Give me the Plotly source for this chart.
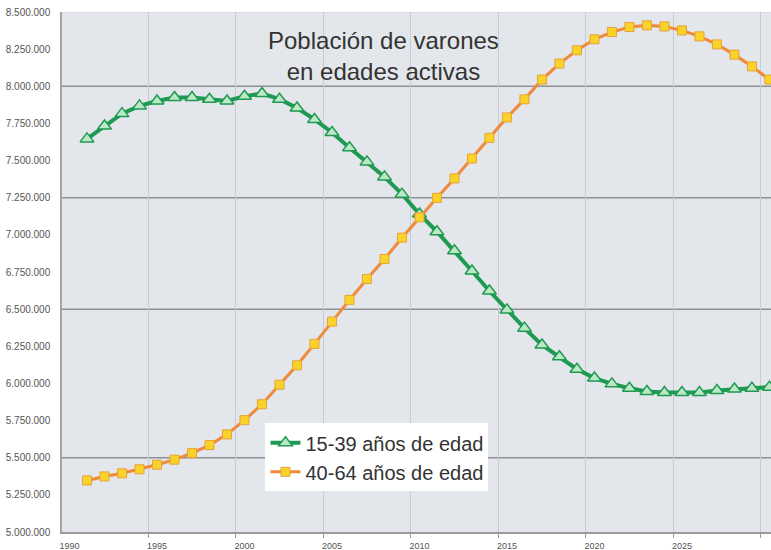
import plotly.graph_objects as go

# ============================================================================
# DATA
# ============================================================================

years = list(range(1991, 2031))

# Población de varones 15-39 años
pob_15_39 = [
    7646000, 7733000, 7816000, 7868000, 7901000, 7924000, 7924000, 7913000,
    7901000, 7933000, 7951000, 7913000, 7854000, 7777000, 7689000, 7586000,
    7491000, 7390000, 7274000, 7140000, 7021000, 6893000, 6757000, 6622000,
    6495000, 6372000, 6259000, 6180000, 6096000, 6036000, 5997000, 5968000,
    5946000, 5939000, 5939000, 5939000, 5952000, 5962000, 5968000, 5975000,
]

# Población de varones 40-64 años
pob_40_64 = [
    5347000, 5374000, 5395000, 5422000, 5453000, 5487000, 5531000, 5585000,
    5657000, 5753000, 5860000, 5991000, 6122000, 6266000, 6416000, 6562000,
    6703000, 6837000, 6981000, 7118000, 7249000, 7380000, 7514000, 7653000,
    7790000, 7912000, 8045000, 8153000, 8242000, 8316000, 8365000, 8399000,
    8410000, 8403000, 8376000, 8336000, 8282000, 8213000, 8134000, 8045000,
]

serie_names = ["15-39 años de edad", "40-64 años de edad"]
title_text = "Población de varones<br>en edades activas"

x_ticks = list(range(1990, 2031, 5))
y_ticks = list(range(5000000, 8500001, 250000))

# ============================================================================
# FIGURE
# ============================================================================

FONT = "Liberation Sans, Arial, sans-serif"

fig = go.Figure()

fig.add_trace(go.Scatter(
    x=years, y=pob_15_39, name=serie_names[0], mode="lines+markers",
    line=dict(color="#1F9A52", width=4),
    marker=dict(symbol="triangle-up", size=12, color="#BDE8C6",
                line=dict(color="#1F9A52", width=1.5)),
))
fig.add_trace(go.Scatter(
    x=years, y=pob_40_64, name=serie_names[1], mode="lines+markers",
    line=dict(color="#F08A3A", width=3),
    marker=dict(symbol="square", size=9, color="#F9D22A",
                line=dict(color="#E8A238", width=1)),
))

# darker reference lines of the original chart
for yv in [8000000, 7250000, 6500000, 5500000]:
    fig.add_hline(y=yv, line=dict(color="#8E9093", width=1.5), layer="below")
fig.add_hline(y=8500000, line=dict(color="#CDCFD2", width=1), layer="below")

fig.add_annotation(
    text=title_text, xref="paper", yref="paper", x=0.453, y=0.915,
    xanchor="center", yanchor="middle", showarrow=False,
    font=dict(family=FONT, size=24, color="#333333"),
)

fig.update_layout(
    width=771, height=550,
    margin=dict(l=62, r=0, t=12, b=18),
    paper_bgcolor="white",
    plot_bgcolor="#E3E6EA",
    separators=",.",
    font=dict(family=FONT, color="#444444"),
    showlegend=True,
    legend=dict(
        x=0.287, y=0.209, xanchor="left", yanchor="top",
        bgcolor="white", borderwidth=0,
        font=dict(family=FONT, size=20, color="#333333"),
        tracegroupgap=0, itemwidth=30,
    ),
    xaxis=dict(
        range=[1989.57, 2030.09],
        tickmode="array", tickvals=x_ticks,
        ticks="", showgrid=False, zeroline=False,
        showline=True, linecolor="#9A9A9A", linewidth=1.5,
        ticklabelstandoff=4,
        tickfont=dict(family=FONT, size=9, color="#555555"),
        minor=dict(
            tickmode="array", tickvals=[v - 0.5 for v in x_ticks],
            showgrid=True, gridcolor="#C9CBCE", gridwidth=1,
            ticks="outside", ticklen=4, tickcolor="#9A9A9A",
        ),
    ),
    yaxis=dict(
        range=[5000000, 8500000],
        tickmode="array", tickvals=y_ticks, tickformat=",d",
        ticks="", showgrid=False, zeroline=False,
        showline=True, linecolor="#A5A5A5", linewidth=1.5,
        ticklabelstandoff=8,
        tickfont=dict(family=FONT, size=10, color="#555555"),
    ),
)

fig.write_html(
    "out.html",
    config={"displayModeBar": False},
    post_script="document.body.style.margin='0';document.body.style.overflow='hidden';",
)
